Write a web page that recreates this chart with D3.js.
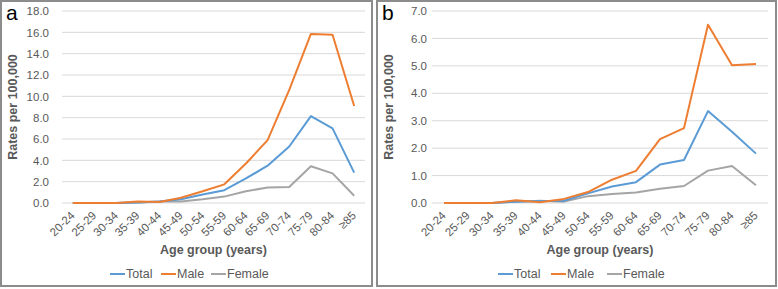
<!DOCTYPE html>
<html>
<head>
<meta charset="utf-8">
<script src="https://cdn.jsdelivr.net/npm/d3@7"></script>
<style>
	body { margin: 0; background: #fff; }
	svg { display: block; font-family: "Liberation Sans", Arial, sans-serif; }
</style>
</head>
<body>
<div id="chart"></div>
<script>
var ageGroups = ["20-24", "25-29", "30-34", "35-39", "40-44", "45-49", "50-54",
	"55-59", "60-64", "65-69", "70-74", "75-79", "80-84", "\u226585"];

// panel a
var totalA  = [0, 0, 0, 0.05, 0.15, 0.35, 0.8, 1.2, 2.3, 3.5, 5.3, 8.15, 7.0, 2.85];
var maleA   = [0, 0, 0, 0.15, 0.1, 0.5, 1.1, 1.75, 3.7, 5.9, 10.6, 15.85, 15.78, 9.1];
var femaleA = [0, 0, 0, 0.05, 0.15, 0.15, 0.35, 0.6, 1.1, 1.45, 1.5, 3.45, 2.78, 0.68];
var ticksA  = [0, 2, 4, 6, 8, 10, 12, 14, 16, 18];

// panel b
var totalB  = [0, 0, 0, 0.05, 0.07, 0.08, 0.35, 0.6, 0.76, 1.4, 1.57, 3.35, 2.6, 1.8];
var maleB   = [0, 0, 0, 0.1, 0.03, 0.15, 0.4, 0.85, 1.17, 2.33, 2.73, 6.5, 5.02, 5.07];
var femaleB = [0, 0, 0, 0.05, 0.08, 0.05, 0.25, 0.33, 0.38, 0.52, 0.62, 1.18, 1.35, 0.65];
var ticksB  = [0, 1, 2, 3, 4, 5, 6, 7];

var seriesNames = ["Total", "Male", "Female"];
var colors = {Total: "#5B9BD5", Male: "#ED7D31", Female: "#A5A5A5"};

var svg = d3.select("#chart")
	.append("svg")
	.attr("width", 778)
	.attr("height", 289);

function drawPanel(opt){
	var g = svg.append("g");

	// frame
	g.append("rect")
		.attr("x", opt.box[0]).attr("y", opt.box[1])
		.attr("width", opt.box[2]).attr("height", opt.box[3])
		.attr("fill", "none").attr("stroke", "#8c8c8c").attr("stroke-width", 2);

	var x = d3.scalePoint()
		.domain(ageGroups)
		.range([opt.left, opt.right])
		.padding(0.5);

	var y = d3.scaleLinear()
		.domain([0, opt.ticks[opt.ticks.length - 1]])
		.range([203, 11]);

	// grid
	g.append("g")
		.selectAll("line")
		.data(opt.ticks)
		.enter()
		.append("line")
		.attr("x1", opt.left).attr("x2", opt.right)
		.attr("y1", function(d){ return y(d); })
		.attr("y2", function(d){ return y(d); })
		.attr("stroke", "#d9d9d9").attr("stroke-width", 1);

	// y axis labels
	var yAxis = d3.axisLeft(y)
		.tickValues(opt.ticks)
		.tickFormat(d3.format(".1f"))
		.tickSize(0)
		.tickPadding(0);
	var ya = g.append("g")
		.attr("transform", "translate(" + opt.tickRight + ",0)")
		.call(yAxis);
	ya.select(".domain").remove();
	ya.selectAll("text")
		.attr("fill", "#595959")
		.style("font-size", "11.5px");

	// x axis labels
	var xAxis = d3.axisBottom(x).tickSize(0).tickPadding(0);
	var xa = g.append("g")
		.attr("transform", "translate(0,210)")
		.call(xAxis);
	xa.select(".domain").remove();
	xa.selectAll("text")
		.attr("fill", "#595959")
		.style("font-size", "11.5px")
		.style("text-anchor", "end")
		.attr("dy", "0.75em")
		.attr("transform", "translate(-4,0) rotate(-45)");

	// lines
	var line = d3.line()
		.x(function(d, i){ return x(ageGroups[i]); })
		.y(function(d){ return y(d); });

	var order = ["Female", "Total", "Male"];
	order.forEach(function(name){
		g.append("path")
			.datum(opt.data[name])
			.attr("d", line)
			.attr("fill", "none")
			.attr("stroke", colors[name])
			.attr("stroke-width", 2)
			.attr("stroke-linejoin", "round");
	});

	// axis titles
	g.append("text")
		.attr("x", (opt.left + opt.right) / 2)
		.attr("y", 254)
		.attr("text-anchor", "middle")
		.attr("fill", "#595959")
		.style("font-size", "12.5px")
		.style("font-weight", "bold")
		.text("Age group (years)");

	g.append("text")
		.attr("transform", "translate(" + opt.ylabelX + ",107) rotate(-90)")
		.attr("text-anchor", "middle")
		.attr("fill", "#595959")
		.style("font-size", "12.5px")
		.style("font-weight", "bold")
		.text("Rates per 100,000");

	// panel letter
	g.append("text")
		.attr("x", opt.letter[0]).attr("y", opt.letter[1])
		.attr("fill", "#000")
		.style("font-size", "21px")
		.text(opt.name);

	// legend
	var lg = g.append("g");
	seriesNames.forEach(function(name, i){
		var lx = opt.legendX[i];
		lg.append("line")
			.attr("x1", lx).attr("x2", lx + 15)
			.attr("y1", 274).attr("y2", 274)
			.attr("stroke", colors[name]).attr("stroke-width", 2);
		lg.append("text")
			.attr("x", lx + 16).attr("y", 278)
			.attr("fill", "#595959")
			.style("font-size", "12.5px")
			.text(name);
	});
}

drawPanel({
	name: "a",
	box: [1, 1, 371, 285],
	left: 62, right: 365, tickRight: 49, ylabelX: 17,
	letter: [6, 20],
	ticks: ticksA,
	data: {Total: totalA, Male: maleA, Female: femaleA},
	legendX: [110, 161, 211]
});

drawPanel({
	name: "b",
	box: [377, 1, 399, 285],
	left: 432, right: 768, tickRight: 427, ylabelX: 393,
	letter: [382, 20],
	ticks: ticksB,
	data: {Total: totalB, Male: maleB, Female: femaleB},
	legendX: [498, 551, 607]
});
</script>
</body>
</html>
